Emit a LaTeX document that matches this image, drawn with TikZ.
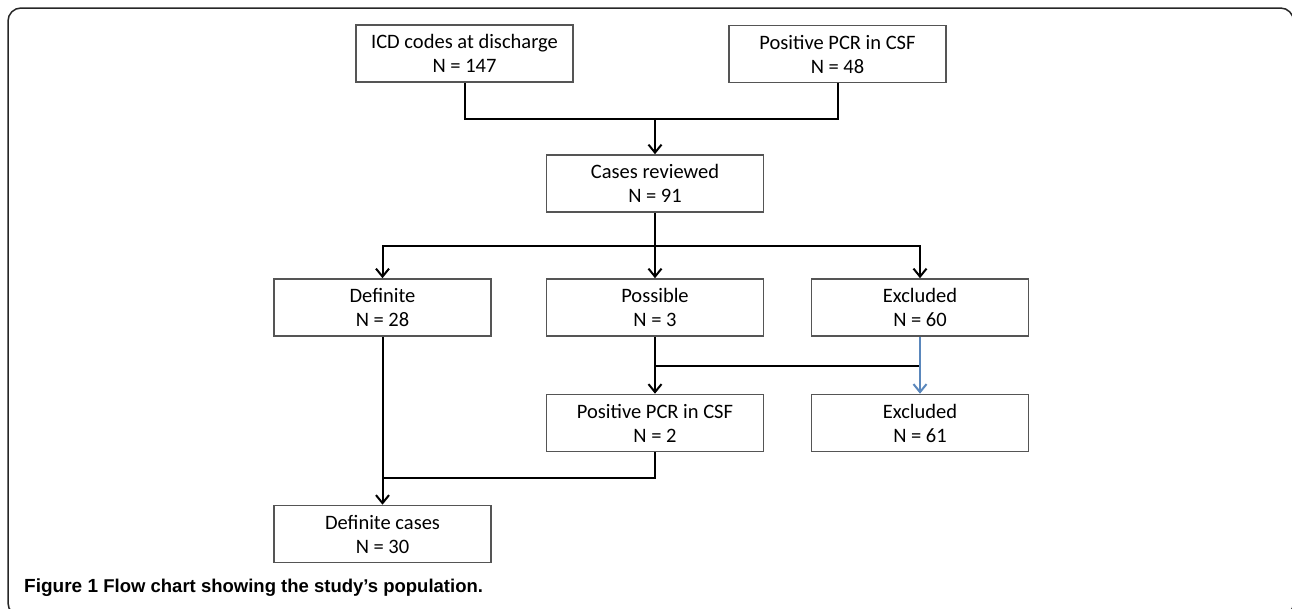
\documentclass[tikz,border=0pt]{standalone}
\usepackage{fontspec}
\setmainfont{Carlito}
\newfontfamily\capfont{Liberation Sans}
\usetikzlibrary{arrows.meta}
\definecolor{boxgray}{HTML}{555555}
\definecolor{linkblue}{HTML}{5A87BC}
\tikzset{
  flowbox/.style={draw=boxgray, line width=1.6pt, minimum width=217pt, minimum height=57pt,
    inner sep=0pt, align=center, font=\fontsize{20.5}{24}\selectfont},
  link/.style={draw=black, line width=2pt},
  arrowlink/.style={link, -{Straight Barb[length=8pt,width=13pt,line width=2pt]}},
  bluelink/.style={draw=linkblue, line width=2pt, -{Straight Barb[length=8pt,width=13pt,line width=2pt]}},
  framestyle/.style={draw=black!85, line width=1.5pt, rounded corners=13pt}
}
\begin{document}
\begin{tikzpicture}[x=1pt,y=-1pt]
\useasboundingbox (0,0) rectangle (1292,608);
% outer frame
\draw[framestyle] (8,8) rectangle (1293.5,616);

% nodes
\node[flowbox] (icd)  at (464.5,53.5) {ICD codes at discharge\\N = 147};
\node[flowbox] (pcr1) at (837.5,54)   {Positive PCR in CSF\\N = 48};
\node[flowbox] (rev)  at (655,183.5)  {Cases reviewed\\N = 91};
\node[flowbox] (def)  at (382.5,307.5){Definite\\N = 28};
\node[flowbox] (pos)  at (655,307.5)  {Possible\\N = 3};
\node[flowbox] (exc)  at (920,307.5)  {Excluded\\N = 60};
\node[flowbox] (pcr2) at (655,423)    {Positive PCR in CSF\\N = 2};
\node[flowbox] (exc2) at (920,423)    {Excluded\\N = 61};
\node[flowbox] (dc)   at (382.5,534)  {Definite cases\\N = 30};

% junction coordinates
\coordinate (j1) at (655,119);
\coordinate (j2) at (655,246);
\coordinate (j3) at (655,366);
\coordinate (j4) at (920,366);
\coordinate (j5) at (382.5,478);

% connectors
\draw[link] (icd.south) |- (j1) -| (pcr1.south);
\draw[arrowlink] (j1) -- (rev.north);
\draw[link] (rev.south) -- (j2);
\draw[arrowlink] (j2) -| (def.north);
\draw[arrowlink] (j2) -- (pos.north);
\draw[arrowlink] (j2) -| (exc.north);
\draw[link] (pos.south) -- (j3) -- (j4);
\draw[arrowlink] (j3) -- (pcr2.north);
\draw[bluelink] (exc.south) -- (exc2.north);
\draw[arrowlink] (def.south) -- (dc.north);
\draw[link] (pcr2.south) |- (j5);

% caption
\node[anchor=base west, inner sep=0pt, font=\capfont\bfseries\fontsize{19}{22}\selectfont] (cap) at (24,592)
  {Figure 1 {\fontsize{18.5}{22}\selectfont Flow chart showing the study’s population.}};
\end{tikzpicture}
\end{document}
